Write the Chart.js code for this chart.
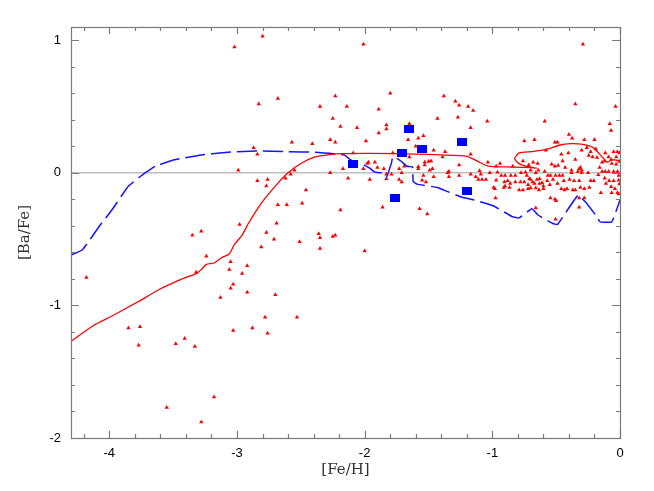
<!DOCTYPE html>
<html><head><meta charset="utf-8">
<script src="https://cdn.jsdelivr.net/npm/chart.js@4/dist/chart.umd.min.js"></script>
<style>html,body{margin:0;padding:0;background:#fff;overflow:hidden}</style>
</head><body>
<canvas id="c" width="654" height="491"></canvas>
<script>
// ---- data ----
const xTickValues = [-4, -3, -2, -1, 0];
const yTickValues = [-2, -1, 0, 1];
const xTitle = '[Fe/H]';
const yTitle = '[Ba/Fe]';

const starPoints = [
[-4.18,-0.79],[-3.85,-1.17],[-3.76,-1.16],[-3.77,-1.30],[-3.48,-1.29],[-3.41,-1.25],[-3.33,-1.31],[-3.55,-1.77],[-3.28,-1.88],[-3.18,-1.69],
[-3.35,-0.47],[-3.28,-0.44],[-3.24,-0.63],[-3.32,-0.75],[-3.13,-0.94],[-3.05,-0.67],[-3.06,-0.73],[-2.92,-0.70],[-2.96,-0.76],[-3.03,-0.84],
[-3.05,-0.87],[-2.92,-0.90],[-3.03,-1.19],[-2.88,-1.17],[-2.76,-1.21],[-2.78,-1.09],[-2.70,-0.92],[-2.53,-1.09],[-2.81,-0.56],[-2.77,-0.45],
[-2.71,-0.50],[-2.51,-0.52],[-2.36,-0.46],[-2.35,-0.49],[-2.35,-0.57],[-2.25,-0.48],[-2.23,-0.47],[-2.00,-0.59],
[-3.02,0.95],[-2.80,1.03],[-2.83,0.52],[-2.68,0.56],[-2.87,0.19],[-2.84,0.14],[-2.57,0.23],[-2.41,0.22],[-2.99,0.02],[-2.84,-0.06],
[-2.76,-0.05],[-2.77,-0.10],[-2.62,-0.04],[-2.58,-0.01],[-2.55,0.02],[-2.46,-0.13],[-2.68,-0.24],[-2.61,-0.24],[-2.49,-0.23],[-2.69,-0.38],
[-2.98,-0.39],[-2.23,0.58],[-2.35,0.50],[-2.25,0.41],[-2.19,0.35],[-2.27,0.25],[-2.23,0.23],[-2.27,0.00],[-2.19,-0.28],
[-2.01,0.97],[-0.29,0.97],[-2.14,0.50],[-2.06,0.34],[-1.89,0.48],[-1.80,0.60],[-1.83,0.36],[-1.83,0.33],[-1.65,0.37],[-1.89,0.30],
[-1.99,0.24],[-1.38,0.58],[-1.29,0.54],[-1.26,0.51],[-1.19,0.50],[-1.15,0.47],[-1.27,0.42],[-1.43,0.41],[-1.04,0.39],[-1.17,0.34],
[-1.66,0.25],[-1.58,0.26],[-1.54,0.28],[-1.60,0.20],[-1.46,0.17],[-1.37,0.16],[-2.09,0.15],[-1.65,0.12],[-1.97,0.08],[-1.92,0.08],
[-1.90,0.04],[-1.85,0.03],[-2.01,0.03],[-1.78,0.15],[-1.39,0.12],[-1.26,0.06],[-1.98,0.07],[-1.53,0.08],[-1.53,0.06],[-1.48,0.09],
[-1.50,0.085],[-2.17,0.03],[-1.58,0.045],[-1.58,0.03],[-1.47,0.03],[-1.49,0.02],[-1.73,0.03],[-1.69,0.05],[-1.79,-0.01],[-1.83,-0.01],
[-1.71,0.00],[-1.34,0.01],[-1.35,0.00],[-1.26,-0.02],[-2.13,-0.04],[-1.96,-0.05],[-1.83,-0.045],[-1.73,-0.05],[-1.71,-0.07],[-1.55,-0.055],
[-1.52,-0.07],[-1.46,-0.03],[-1.54,-0.02],[-1.34,-0.03],[-1.86,-0.26],[-1.57,-0.27],[-1.51,-0.31],
[-0.75,0.24],[-0.67,0.25],[-1.17,0.14],[-1.035,0.08],[-0.97,0.05],[-0.94,0.07],[-0.84,0.05],[-0.76,0.09],[-0.715,0.06],[-0.68,0.08],
[-0.645,0.07],[-1.17,-0.01],[-1.10,0.015],[-1.09,-0.01],[-1.02,0.00],[-0.96,0.005],[-0.93,-0.02],[-0.90,-0.02],[-0.855,-0.02],[-0.82,-0.02],
[-0.775,0.00],[-0.74,0.005],[-0.70,0.02],[-0.66,0.00],[-0.64,0.02],[-0.73,-0.02],[-1.13,-0.03],[-1.11,-0.05],[-1.08,-0.05],[-1.05,-0.05],
[-0.97,-0.055],[-0.905,-0.07],[-0.88,-0.06],[-0.86,-0.08],[-0.82,-0.07],[-0.78,-0.07],[-0.75,-0.07],[-0.70,-0.05],[-0.685,-0.07],[-0.65,-0.05],
[-0.67,-0.08],[-0.63,-0.08],[-0.90,-0.10],[-0.865,-0.11],[-0.79,-0.13],[-0.76,-0.13],[-0.70,-0.115],[-0.66,-0.115],[-0.635,-0.13],[-0.98,-0.12],
[-0.975,-0.19],[-0.66,-0.265],[-0.71,-0.045],[-0.63,-0.045],[-0.61,-0.075],[-0.72,-0.12],[-0.60,-0.12],[-0.91,-0.11],[-0.99,-0.11],[-0.72,-0.09],
[-0.59,0.39],[-0.08,0.37],[-0.07,0.32],[-0.40,0.29],[-0.51,0.23],[-0.49,0.23],[-0.375,0.26],[-0.28,0.25],[-0.20,0.25],[-0.58,0.17],
[-0.46,0.14],[-0.405,0.15],[-0.30,0.17],[-0.26,0.19],[-0.23,0.16],[-0.245,0.13],[-0.215,0.12],[-0.19,0.18],[-0.18,0.115],[-0.115,0.15],
[-0.05,0.16],[-0.02,0.16],[-0.09,0.12],[-0.03,0.12],[-0.005,0.085],[-0.07,0.10],[-0.065,0.07],[-0.03,0.065],[-0.14,0.08],[-0.12,0.09],
[-0.45,0.09],[-0.35,0.10],[-0.535,0.065],[-0.51,0.05],[-0.485,0.055],[-0.31,0.04],[-0.32,0.03],[-0.30,0.02],[-0.38,0.02],[-0.43,0.04],
[-0.16,0.04],[-0.14,0.01],[-0.115,0.01],[-0.09,0.01],[-0.05,0.01],[-0.02,0.01],[-0.59,0.01],[-0.565,-0.02],[-0.545,-0.02],[-0.505,-0.02],
[-0.475,-0.02],[-0.45,-0.02],[-0.38,0.00],[-0.33,0.01],[-0.30,0.00],[-0.25,0.00],[-0.57,-0.06],[-0.525,-0.05],[-0.49,-0.08],[-0.44,-0.06],
[-0.395,-0.05],[-0.36,-0.06],[-0.32,-0.06],[-0.23,-0.06],[-0.205,-0.06],[-0.17,-0.015],[-0.12,-0.04],[-0.085,-0.06],[-0.05,-0.06],[-0.01,-0.055],
[-0.60,-0.10],[-0.55,-0.09],[-0.46,-0.12],[-0.435,-0.13],[-0.415,-0.12],[-0.37,-0.13],[-0.35,-0.13],[-0.31,-0.11],[-0.28,-0.12],[-0.24,-0.11],
[-0.11,-0.08],[-0.07,-0.105],[-0.005,-0.085],[-0.15,-0.15],[-0.065,-0.15],[-0.02,-0.15],[-0.545,-0.19],[-0.51,-0.20],[-0.50,-0.21],[-0.32,-0.19],
[-0.28,-0.19],[-0.32,-0.26],[-0.505,-0.35],[-0.35,0.52],[-0.035,0.50],[-0.01,-0.16],[-0.01,-0.02],[-0.005,0.15],[-0.04,-0.12]
];

const squarePoints = [
[-2.09,0.063],[-1.65,0.33],[-1.71,0.15],[-1.55,0.18],[-1.76,-0.19],[-1.235,0.23],[-1.20,-0.14]
];

const redModel = [
[-4.3,-1.27],[-4.13,-1.155],[-3.98,-1.08],[-3.77,-0.97],[-3.61,-0.88],[-3.43,-0.80],[-3.32,-0.76],[-3.28,-0.73],[-3.24,-0.69],
[-3.18,-0.68],[-3.12,-0.64],[-3.06,-0.61],[-3.02,-0.54],[-2.96,-0.47],[-2.91,-0.38],[-2.81,-0.23],[-2.70,-0.10],[-2.60,0.00],
[-2.50,0.07],[-2.39,0.12],[-2.29,0.135],[-2.18,0.145],[-1.74,0.145],[-1.40,0.135],[-1.20,0.125],[-1.11,0.085],[-1.03,0.05],
[-0.90,0.045],[-0.69,0.04],[-0.655,0.035],[-0.74,0.05],[-0.80,0.075],[-0.825,0.11],[-0.79,0.15],[-0.69,0.16],[-0.585,0.175],
[-0.47,0.21],[-0.39,0.22],[-0.29,0.215],[-0.21,0.19],[-0.14,0.12],[-0.10,0.08],[-0.065,0.10],[0,0.09]
];

const blueModel = [
[-4.3,-0.62],[-4.21,-0.58],[-4.08,-0.405],[-3.98,-0.28],[-3.85,-0.10],[-3.74,-0.015],[-3.64,0.05],[-3.48,0.10],[-3.28,0.135],
[-3.07,0.155],[-2.86,0.165],[-2.60,0.16],[-2.39,0.155],[-2.16,0.135],[-2.10,0.09],[-2.07,0.075],[-2.01,0.06],[-1.96,0.035],
[-1.92,0.005],[-1.87,0.00],[-1.83,-0.035],[-1.79,0.075],[-1.78,0.12],[-1.74,0.105],[-1.70,0.075],[-1.67,0.05],[-1.625,0.045],
[-1.62,-0.065],[-1.59,-0.085],[-1.43,-0.11],[-1.38,-0.13],[-1.25,-0.18],[-1.145,-0.205],[-0.99,-0.25],[-0.845,-0.33],[-0.79,-0.34],
[-0.69,-0.27],[-0.64,-0.32],[-0.53,-0.38],[-0.49,-0.39],[-0.33,-0.17],[-0.27,-0.22],[-0.19,-0.32],[-0.155,-0.37],[-0.065,-0.37],[0,-0.205]
];

const toXY = arr => arr.map(p => ({x: p[0], y: p[1]}));

// blue square marker
const sq = document.createElement('canvas');
sq.width = 10; sq.height = 8;
const sctx = sq.getContext('2d');
sctx.fillStyle = '#0000ff'; sctx.fillRect(0, 0, 10, 8);

const frameTicks = {
  id: 'frameTicks',
  afterDatasetsDraw(chart) {
    const {ctx, chartArea: a, scales: {x, y}} = chart;
    ctx.save();
    ctx.strokeStyle = '#7a7a7a';
    ctx.lineWidth = 1.2;
    ctx.beginPath();
    for (let k = -21; k <= 0; k++) {
      const v = k * 0.2;
      const len = (k % 5 === 0) ? 7 : 4;
      const px = Math.round(x.getPixelForValue(v)) + 0.5;
      ctx.moveTo(px, a.bottom); ctx.lineTo(px, a.bottom - len);
      ctx.moveTo(px, a.top); ctx.lineTo(px, a.top + len);
    }
    for (let k = -10; k <= 5; k++) {
      const v = k * 0.2;
      const len = (k % 5 === 0) ? 8 : 4;
      const py = Math.round(y.getPixelForValue(v)) + 0.5;
      ctx.moveTo(a.left, py); ctx.lineTo(a.left + len, py);
      ctx.moveTo(a.right, py); ctx.lineTo(a.right - len, py);
    }
    ctx.stroke();
    ctx.strokeRect(Math.round(a.left) + 0.5, Math.round(a.top) + 0.5, Math.round(a.width), Math.round(a.height));
    ctx.restore();
  }
};

new Chart(document.getElementById('c'), {
  type: 'scatter',
  data: {
    datasets: [
      { label: 'Ba', data: toXY(squarePoints), pointStyle: sq, pointRadius: 5, order: 0 },
      { label: 'model1', data: toXY(redModel), showLine: true, pointRadius: 0, borderColor: '#ff0000', borderWidth: 1.3, tension: 0.2, fill: false, order: 1 },
      { label: 'model2', data: toXY(blueModel), showLine: true, pointRadius: 0, borderColor: '#1414ff', borderWidth: 1.5, borderDash: [20, 6], tension: 0.1, fill: false, order: 2 },
      { label: 'stars', data: toXY(starPoints), pointStyle: 'triangle', pointRadius: 2.5, backgroundColor: '#ff0000', borderColor: '#ff0000', borderWidth: 0, order: 3 }
    ]
  },
  options: {
    responsive: false,
    animation: false,
    devicePixelRatio: 1,
    events: [],
    layout: { padding: { top: 27, right: 34, left: 0, bottom: 0 } },
    plugins: { legend: { display: false }, tooltip: { enabled: false } },
    scales: {
      x: {
        type: 'linear', min: -4.3, max: 0,
        afterBuildTicks: s => { s.ticks = xTickValues.map(v => ({ value: v })); },
        afterFit: s => { s.height = 53; },
        grid: { display: false, drawTicks: false },
        border: { display: false },
        ticks: { color: '#000', font: { family: 'Liberation Sans', size: 13 }, padding: 8, maxRotation: 0 },
        title: { display: true, text: xTitle, color: '#333', font: { family: 'DejaVu Serif', size: 15 }, padding: { top: 0, bottom: 12 } }
      },
      y: {
        type: 'linear', min: -2, max: 1.1,
        afterBuildTicks: s => { s.ticks = yTickValues.map(v => ({ value: v })); },
        afterFit: s => { s.width = 71; },
        grid: { drawTicks: false, lineWidth: 1.5, color: c => (c.tick && c.tick.value === 0) ? '#bdbdbd' : 'rgba(0,0,0,0)' },
        border: { display: false },
        ticks: { color: '#000', font: { family: 'Liberation Sans', size: 13 }, padding: 10 },
        title: { display: true, text: yTitle, color: '#333', font: { family: 'DejaVu Serif', size: 15 }, padding: { top: 16, bottom: 0 } }
      }
    }
  },
  plugins: [frameTicks]
});
</script>
</body></html>
